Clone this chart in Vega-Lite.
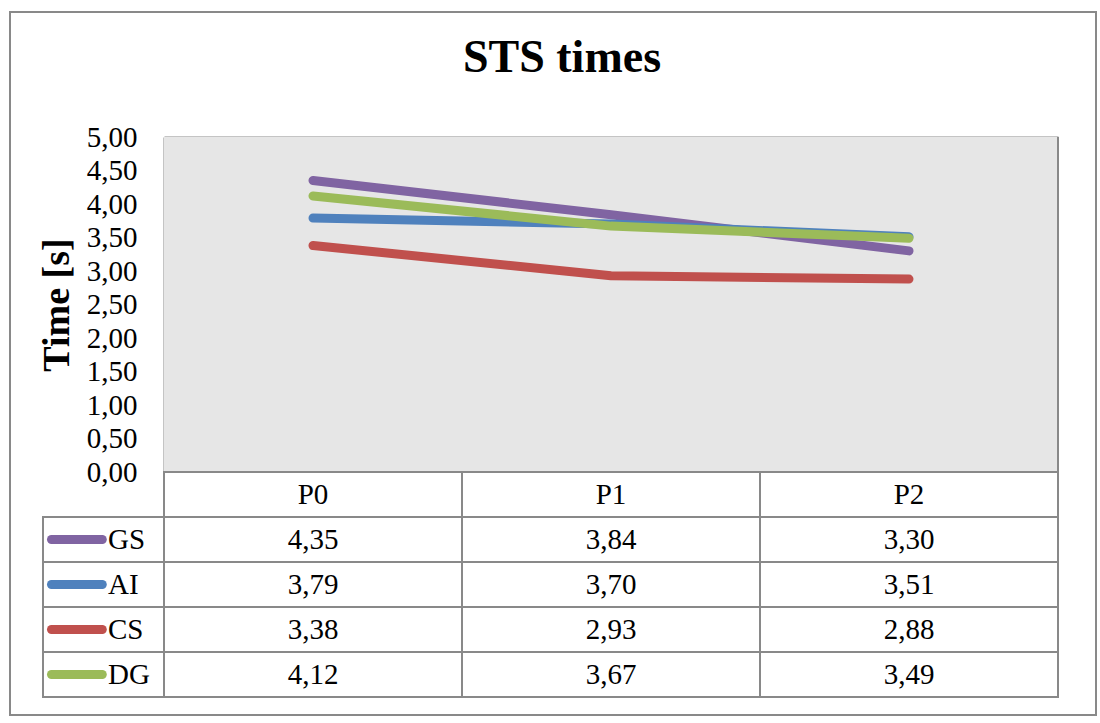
{
  "$schema": "https://vega.github.io/schema/vega-lite/v6.json",
  "width": 1086,
  "height": 703,
  "autosize": {"type": "none"},
  "padding": {"left": 10, "top": 12, "right": 4, "bottom": 8},
  "background": "white",
  "title": {"text": "STS times", "font": "Liberation Serif", "fontSize": 46, "fontWeight": "bold", "color": "black", "anchor": "middle", "frame": "group", "offset": -106, "baseline": "alphabetic", "dx": 9},
  "config": {
    "view": {"stroke": "#898989", "strokeWidth": 2},
    "locale": {"number": {"decimal": ",", "thousands": ".", "grouping": [3], "currency": ["", "€"]}}
  },
  "datasets": {
    "d": [
      {"series": "GS", "period": "P0", "value": 4.35},
      {"series": "GS", "period": "P1", "value": 3.84},
      {"series": "GS", "period": "P2", "value": 3.30},
      {"series": "AI", "period": "P0", "value": 3.79},
      {"series": "AI", "period": "P1", "value": 3.70},
      {"series": "AI", "period": "P2", "value": 3.51},
      {"series": "CS", "period": "P0", "value": 3.38},
      {"series": "CS", "period": "P1", "value": 2.93},
      {"series": "CS", "period": "P2", "value": 2.88},
      {"series": "DG", "period": "P0", "value": 4.12},
      {"series": "DG", "period": "P1", "value": 3.67},
      {"series": "DG", "period": "P2", "value": 3.49}
    ]
  },
  "data": {"name": "d"},
  "resolve": {"scale": {"x": "independent", "y": "independent"}},
  "layer": [
    {
      "resolve": {"scale": {"y": "independent"}},
      "layer": [
        {
          "layer": [
            {
              "mark": {"type": "rect", "fill": "#e6e6e6"},
              "encoding": {
                "x": {"field": "period", "type": "nominal", "scale": {"type": "band", "domain": ["P0", "P1", "P2"], "range": [154, 1048], "paddingInner": 0, "paddingOuter": 0}, "axis": null},
                "y": {"datum": 0, "type": "quantitative", "scale": {"domain": [0, 5], "range": [460, 125]},
                  "axis": {"orient": "left", "offset": -154, "values": [0, 0.5, 1, 1.5, 2, 2.5, 3, 3.5, 4, 4.5, 5], "format": ".2f",
                    "labelFont": "Liberation Serif", "labelFontSize": 29, "labelColor": "black", "labelPadding": 27,
                    "ticks": false, "domain": true, "domainColor": "#898989", "domainWidth": 2,
                    "grid": true, "gridColor": "#898989", "gridWidth": 2,
                    "title": "Time [s]", "titleFont": "Liberation Serif", "titleFontSize": 38, "titleFontWeight": "bold", "titleColor": "black", "titlePadding": 10}},
                "y2": {"datum": 5}
              }
            },
            {
              "mark": {"type": "rule", "color": "#898989", "strokeWidth": 2},
              "encoding": {
                "x": {"datum": "P2", "type": "nominal", "bandPosition": 1, "axis": null},
                "y": {"datum": 0, "type": "quantitative", "title": "Time [s]"},
                "y2": {"datum": 5}
              }
            },
            {
              "mark": {"type": "line", "strokeWidth": 9, "strokeCap": "round", "strokeJoin": "round"},
              "encoding": {
                "x": {"field": "period", "type": "nominal", "axis": null},
                "y": {"field": "value", "type": "quantitative", "title": "Time [s]"},
                "color": {"field": "series", "type": "nominal", "scale": {"domain": ["GS", "AI", "CS", "DG"], "range": ["#8064A2", "#4F81BD", "#C0504D", "#9BBB59"]}, "legend": null}
              }
            }
          ]
        },
        {
          "layer": [
            {
              "mark": {"type": "rect", "fill": "white", "stroke": "#898989", "strokeWidth": 2},
              "encoding": {
                "x": {"field": "period", "type": "nominal", "axis": null},
                "y": {"field": "series", "type": "nominal", "scale": {"type": "band", "domain": ["hdr", "GS", "AI", "CS", "DG"], "range": [460, 685], "paddingInner": 0, "paddingOuter": 0}, "axis": null}
              }
            },
            {
              "transform": [{"filter": "datum.series === 'GS'"}],
              "mark": {"type": "rect", "fill": "white", "stroke": "#898989", "strokeWidth": 2},
              "encoding": {
                "x": {"field": "period", "type": "nominal", "axis": null},
                "y": {"datum": "hdr", "type": "nominal", "axis": null}
              }
            },
            {
              "mark": {"type": "text", "font": "Liberation Serif", "fontSize": 29, "color": "black", "baseline": "middle", "align": "center"},
              "encoding": {
                "x": {"field": "period", "type": "nominal", "axis": null},
                "y": {"field": "series", "type": "nominal", "axis": null},
                "text": {"field": "value", "type": "quantitative", "format": ".2f"}
              }
            },
            {
              "transform": [{"filter": "datum.series === 'GS'"}],
              "mark": {"type": "text", "font": "Liberation Serif", "fontSize": 29, "color": "black", "baseline": "middle", "align": "center"},
              "encoding": {
                "x": {"field": "period", "type": "nominal", "axis": null},
                "y": {"datum": "hdr", "type": "nominal", "axis": null},
                "text": {"field": "period", "type": "nominal"}
              }
            }
          ]
        }
      ]
    },
    {
      "transform": [{"filter": "datum.period === 'P0'"}],
      "layer": [
        {
          "mark": {"type": "rect", "fill": "white", "stroke": "#898989", "strokeWidth": 2},
          "encoding": {
            "x": {"datum": 0, "type": "quantitative", "scale": {"domain": [0, 1], "range": [33, 154]}, "axis": null},
            "x2": {"datum": 1},
            "y": {"field": "series", "type": "nominal", "scale": {"type": "band", "domain": ["hdr", "GS", "AI", "CS", "DG"], "range": [460, 685], "paddingInner": 0, "paddingOuter": 0}, "axis": null}
          }
        },
        {
          "mark": {"type": "rule", "strokeWidth": 9, "strokeCap": "round"},
          "encoding": {
            "x": {"datum": 0.07, "type": "quantitative", "axis": null},
            "x2": {"datum": 0.49},
            "y": {"field": "series", "type": "nominal", "axis": null},
            "color": {"field": "series", "type": "nominal", "legend": null}
          }
        },
        {
          "mark": {"type": "text", "font": "Liberation Serif", "fontSize": 29, "color": "black", "baseline": "middle", "align": "left"},
          "encoding": {
            "x": {"datum": 0.537, "type": "quantitative", "axis": null},
            "y": {"field": "series", "type": "nominal", "axis": null},
            "text": {"field": "series", "type": "nominal"}
          }
        }
      ]
    }
  ]
}
